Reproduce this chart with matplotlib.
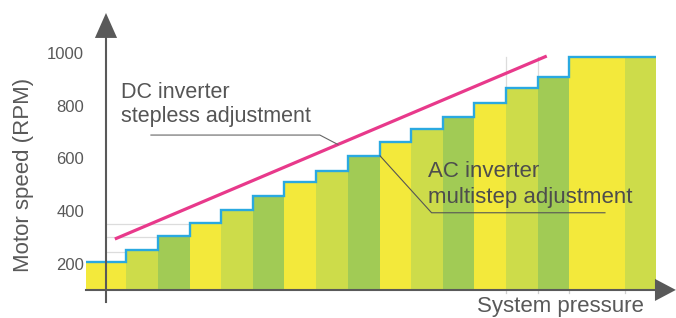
import numpy as np
import matplotlib.pyplot as plt

# motor speed steps (RPM) against system pressure (arbitrary step units)
step_edges = [-0.63, 0.63, 1.64, 2.64, 3.65, 4.66, 5.64, 6.64, 7.66, 8.66,
              9.64, 10.66, 11.64, 12.64, 13.66, 14.63, 16.40, 17.38]
speeds = [213, 256, 311, 361, 410, 463, 517, 559, 616, 670, 719, 764, 818,
          873, 917, 994, 994]
yticks = [200, 400, 600, 800, 1000]
dc_line_x = [0.28, 13.93]
dc_line_y = [299, 996]
base = 105

yellow, ygreen, green = '#f3e93b', '#cddc4a', '#a1cb55'
bar_colors = [yellow] + [[ygreen, green, yellow][i % 3] for i in range(len(speeds) - 1)]
axis_col = '#595959'
text_col = '#555555'

plt.rcParams['font.family'] = ['Liberation Sans', 'DejaVu Sans']

fig = plt.figure(figsize=(6.76, 3.18), dpi=100)
ax = fig.add_axes([0, 0, 1, 1])
ax.set_xlim(-3.35, 18.015)
ax.set_ylim(-1.9, 1209.5)
ax.axis('off')

edges = np.array(step_edges)
vals = np.array(speeds)
ax.bar(edges[:-1], vals - base, width=np.diff(edges), bottom=base,
       align='edge', color=bar_colors, linewidth=0, zorder=1)

# light guide lines
for i in (1, 2, 3):
    ax.plot([0, edges[i]], [vals[i] - 5, vals[i] - 5], color='#dcdcdc', lw=0.9, zorder=0.5)
for i in (13, 14):
    ax.plot([edges[i], edges[i]], [vals[i], vals[-1]], color='#dcdcdc', lw=0.9, zorder=0.5)
for e in edges[13:17]:
    ax.plot([e, e], [base, base - 12], color='#cfcfcf', lw=0.9, zorder=0.5)

ax.stairs(vals, edges, baseline=None, color='#2aa9e0', lw=1.7, zorder=3)

# DC inverter stepless line
ax.plot(dc_line_x, dc_line_y, color='#e8398b', lw=2.3, solid_capstyle='butt', zorder=4)

# axes with arrows
ax.plot([edges[0], 17.35], [base, base], color=axis_col, lw=1.5, zorder=5)
ax.fill([17.35, 18.01, 17.35], [base + 42, base, base - 42], color=axis_col, lw=0, zorder=5)
ax.plot([0, 0], [59, 1065], color=axis_col, lw=1.5, zorder=5)
ax.fill([-0.35, 0, 0.35], [1065, 1160, 1065], color=axis_col, lw=0, zorder=5)

for t in yticks:
    ax.text(-0.69, t, str(t), ha='right', va='center', fontsize=12, color=axis_col)

ax.text(-2.62, 543, 'Motor speed (RPM)', rotation=90, ha='center', va='center',
        fontsize=16, color=axis_col)
ax.text(14.35, 21, 'System pressure', ha='center', va='baseline', fontsize=16, color=axis_col)

# annotations
ax.text(0.49, 835, 'DC inverter', ha='left', va='baseline', fontsize=15.5, color=text_col)
ax.text(0.49, 746, 'stepless adjustment', ha='left', va='baseline', fontsize=15.5, color=text_col)
ax.plot([1.42, 6.76, 7.33], [695, 695, 659], color='#666666', lw=0.8, zorder=4)

ax.text(10.18, 536, 'AC inverter', ha='left', va='baseline', fontsize=16, color='#4d4d4d')
ax.text(10.18, 435, 'multistep adjustment', ha='left', va='baseline', fontsize=16, color='#4d4d4d')
ax.plot([8.66, 10.29, 15.77], [616, 399, 399], color='#555555', lw=0.8, zorder=4)

fig.savefig('out.png', dpi=100)
